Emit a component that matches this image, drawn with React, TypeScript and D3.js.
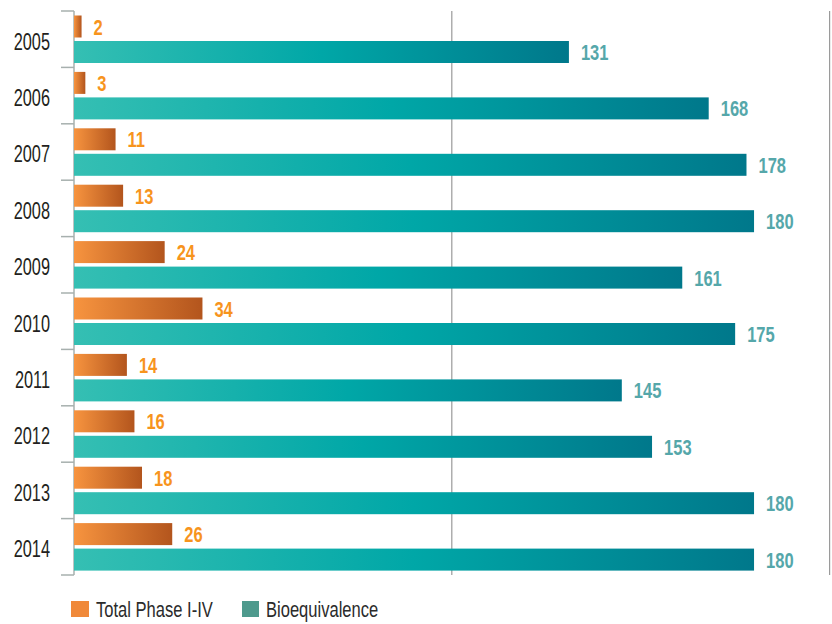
import React from "react";
import * as d3 from "d3";

const years = ["2005","2006","2007","2008","2009","2010","2011","2012","2013","2014"];
const phaseValues = [2, 3, 11, 13, 24, 34, 14, 16, 18, 26];
const bioValues = [131, 168, 178, 180, 161, 175, 145, 153, 180, 180];
const gridTicks = [100, 200];
const legendItems = ["Total Phase I-IV", "Bioequivalence"];

const W = 832, H = 624;
const FONT = "'Liberation Sans', Arial, sans-serif";

function NText(props: { x: number; y: number; sx: number; anchor?: string; size: number; weight?: string; fill: string; children: any }) {
  const { x, y, sx, anchor, size, weight, fill, children } = props;
  return (
    <text transform={`translate(${x},${y}) scale(${sx},1)`} textAnchor={anchor || "start"}
      fontFamily={FONT} fontSize={size} fontWeight={weight || "normal"} fill={fill}>{children}</text>
  );
}

export default function App() {
  const x = d3.scaleLinear().domain([0, 200]).range([74, 829.6]);
  const y = d3.scaleBand<string>().domain(years).range([11, 575]).padding(0);
  const barH = 22;
  const orangeOff = 4.5;
  const tealOff = 30;

  return (
    <svg width={W} height={H} style={{ display: "block", position: "absolute", left: 0, top: 0 }}>
      <defs>
        <linearGradient id="gOrange" x1="0" x2="1" y1="0" y2="0">
          <stop offset="0" stopColor="#f7943f" />
          <stop offset="1" stopColor="#b3551d" />
        </linearGradient>
        <linearGradient id="gTeal" x1="0" x2="1" y1="0" y2="0">
          <stop offset="0" stopColor="#35bfb3" />
          <stop offset="0.5" stopColor="#00a7a7" />
          <stop offset="1" stopColor="#00788b" />
        </linearGradient>
      </defs>
      <rect width={W} height={H} fill="#ffffff" />
      {gridTicks.map((t) => (
        <line key={t} x1={x(t)} x2={x(t)} y1={11} y2={575} stroke="#9a9a9a" strokeWidth={1.2} />
      ))}
      <line x1={74} x2={74} y1={11} y2={575} stroke="#a7b0ae" strokeWidth={1.5} />
      {years.map((yr) => (
        <line key={"t" + yr} x1={61} x2={74} y1={y(yr)!} y2={y(yr)!} stroke="#a7b0ae" strokeWidth={1.5} />
      ))}
      <line x1={61} x2={74} y1={575} y2={575} stroke="#a7b0ae" strokeWidth={1.5} />
      {years.map((yr, i) => {
        const y0 = y(yr)!;
        return (
          <g key={yr}>
            <NText x={50} y={y0 + 38.5} sx={0.71} anchor="end" size={23} fill="#231f20">{yr}</NText>
            <rect x={x(0)} y={y0 + orangeOff} width={x(phaseValues[i]) - x(0)} height={barH} fill="url(#gOrange)" />
            <NText x={x(phaseValues[i]) + 12} y={y0 + orangeOff + barH / 2 + 8} sx={0.75} size={22} weight="bold" fill="#f7941d">{phaseValues[i]}</NText>
            <rect x={x(0)} y={y0 + tealOff} width={x(bioValues[i]) - x(0)} height={barH} fill="url(#gTeal)" />
            <NText x={x(bioValues[i]) + 12} y={y0 + tealOff + barH / 2 + 8} sx={0.75} size={22} weight="bold" fill="#55a7aa">{bioValues[i]}</NText>
          </g>
        );
      })}
      <rect x={71} y={601} width={18} height={16} fill="#f0893a" />
      <NText x={96} y={617} sx={0.77} size={21.5} fill="#2b2b2b">{legendItems[0]}</NText>
      <rect x={242} y={601} width={17} height={16} fill="#4e9a8d" />
      <NText x={266} y={617} sx={0.77} size={21.5} fill="#2b2b2b">{legendItems[1]}</NText>
    </svg>
  );
}
